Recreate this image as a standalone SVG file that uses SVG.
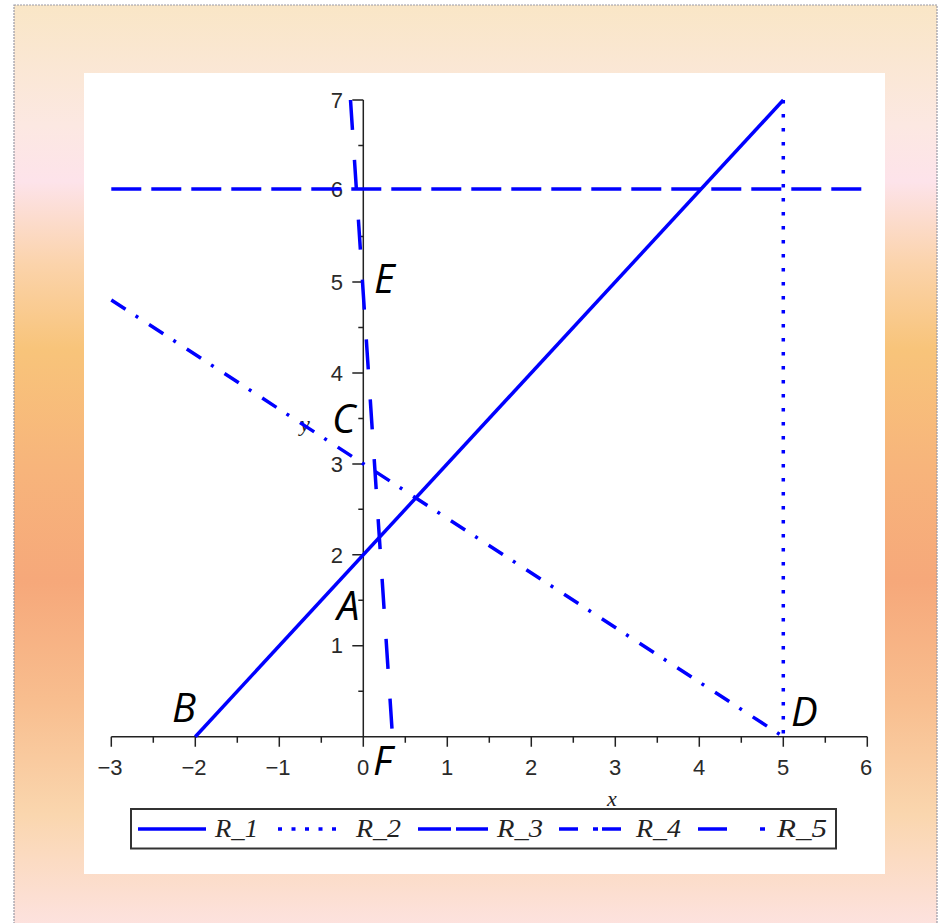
<svg xmlns="http://www.w3.org/2000/svg" width="944" height="923" viewBox="0 0 944 923">
  <defs>
    <linearGradient id="bg" x1="0" y1="0" x2="0" y2="1">
      <stop offset="0" stop-color="#f9e6c6"/>
      <stop offset="0.13" stop-color="#fce8e2"/>
      <stop offset="0.19" stop-color="#fde3ea"/>
      <stop offset="0.28" stop-color="#fbd3aa"/>
      <stop offset="0.37" stop-color="#f8c47a"/>
      <stop offset="0.5" stop-color="#f7b47b"/>
      <stop offset="0.62" stop-color="#f6a87a"/>
      <stop offset="0.75" stop-color="#f8be8f"/>
      <stop offset="0.87" stop-color="#fad6ae"/>
      <stop offset="1" stop-color="#fde3e3"/>
    </linearGradient>
  </defs>
  <style>
    .axis { stroke: #222; stroke-width: 1.5; fill: none; }
    .curve { stroke: #0000ff; stroke-width: 3.5; fill: none; stroke-linecap: butt; }
    .tick { font-family: "Liberation Sans", Arial, sans-serif; font-size: 22px; fill: #2a2a2a; }
    .tx { text-anchor: middle; }
    .ty { text-anchor: end; }
    .ital { font-family: "Liberation Serif", "Times New Roman", serif; font-style: italic; fill: #222; }
    .pt { font-family: "Open Sans", "Noto Sans", sans-serif; font-style: italic; font-size: 40px; fill: #000; }
  </style>

  <g id="background">
    <rect x="14" y="5" width="923" height="930" fill="url(#bg)" stroke="#9a9aa6" stroke-width="1.2" stroke-dasharray="2,1"/>
    <rect x="84" y="73" width="801" height="801" fill="#ffffff"/>
  </g>

  <g id="axes">
    <path class="axis" d="M111.3,736.7 H867.3 M363.3,736.7 V100"/>
    <path class="axis" d="M111.3,736.7 v10 M195.3,736.7 v10 M279.3,736.7 v10 M363.3,736.7 v10 M447.3,736.7 v10 M531.3,736.7 v10 M615.3,736.7 v10 M699.3,736.7 v10 M783.3,736.7 v10 M867.3,736.7 v10"/>
    <path class="axis" d="M153.3,736.7 v6 M237.3,736.7 v6 M321.3,736.7 v6 M405.3,736.7 v6 M489.3,736.7 v6 M573.3,736.7 v6 M657.3,736.7 v6 M741.3,736.7 v6 M825.3,736.7 v6"/>
    <path class="axis" d="M363.3,645.7 h-11 M363.3,554.8 h-11 M363.3,463.9 h-11 M363.3,372.9 h-11 M363.3,282 h-11 M363.3,189 h-11 M363.3,100 h-11"/>
    <path class="axis" d="M363.3,691.2 h-5 M363.3,600.3 h-5 M363.3,509.3 h-5 M363.3,418.4 h-5 M363.3,327.4 h-5 M363.3,236.5 h-5 M363.3,145.5 h-5"/>
    <g id="x-tick-labels" class="tick tx">
      <text x="110" y="775">−3</text>
      <text x="194" y="775">−2</text>
      <text x="278" y="775">−1</text>
      <text x="363" y="775">0</text>
      <text x="447" y="775">1</text>
      <text x="531" y="775">2</text>
      <text x="615" y="775">3</text>
      <text x="699" y="775">4</text>
      <text x="783" y="775">5</text>
      <text x="866" y="775">6</text>
    </g>
    <g id="y-tick-labels" class="tick ty">
      <text x="343" y="653">1</text>
      <text x="343" y="563">2</text>
      <text x="343" y="472">3</text>
      <text x="343" y="381">4</text>
      <text x="343" y="290">5</text>
      <text x="343" y="197">6</text>
      <text x="343" y="108">7</text>
    </g>
    <text class="ital" x="612" y="806" font-size="22" text-anchor="middle">x</text>
    <text class="ital" x="305" y="431" font-size="22" text-anchor="middle">y</text>
  </g>

  <g id="connectors">
    <path id="R_1" class="curve" d="M195.3,736.7 L783.3,100"/>
    <path id="R_2" class="curve" d="M783.3,100 V736.7" stroke-dasharray="3.5,10.5"/>
    <path id="R_3" class="curve" d="M111.3,189 H867.3" stroke-dasharray="30,10"/>
    <path id="R_4" class="curve" d="M111.3,300 L783.3,736.7" stroke-dasharray="17,12,3,13"/>
    <path id="R_5" class="curve" d="M350.5,100 L392,729" stroke-dasharray="30,30"/>
  </g>

  <g id="point-labels" class="pt">
    <text id="label-E" x="374" y="293">E</text>
    <text id="label-C" x="332" y="433">C</text>
    <text id="label-A" x="337" y="620">A</text>
    <text id="label-B" x="172" y="722">B</text>
    <text id="label-F" x="373" y="775">F</text>
    <text id="label-D" x="791" y="726">D</text>
  </g>

  <g id="legend">
    <rect x="131" y="809" width="705" height="39.5" fill="#ffffff" stroke="#333" stroke-width="2"/>
    <path class="curve" d="M138,829 H206"/>
    <path class="curve" d="M278,829 H337" stroke-dasharray="4,9.5"/>
    <path class="curve" d="M418,829 H488" stroke-dasharray="33,5"/>
    <path class="curve" d="M559,829 H621" stroke-dasharray="19,15,5,4,19"/>
    <path class="curve" d="M698,829 H767" stroke-dasharray="29,33,5"/>
    <g class="ital" font-size="26">
      <text x="215" y="837" textLength="43" lengthAdjust="spacingAndGlyphs">R_1</text>
      <text x="356" y="837" textLength="45" lengthAdjust="spacingAndGlyphs">R_2</text>
      <text x="497" y="837" textLength="46" lengthAdjust="spacingAndGlyphs">R_3</text>
      <text x="636" y="837" textLength="45" lengthAdjust="spacingAndGlyphs">R_4</text>
      <text x="777" y="837" textLength="50" lengthAdjust="spacingAndGlyphs">R_5</text>
    </g>
  </g>
</svg>
